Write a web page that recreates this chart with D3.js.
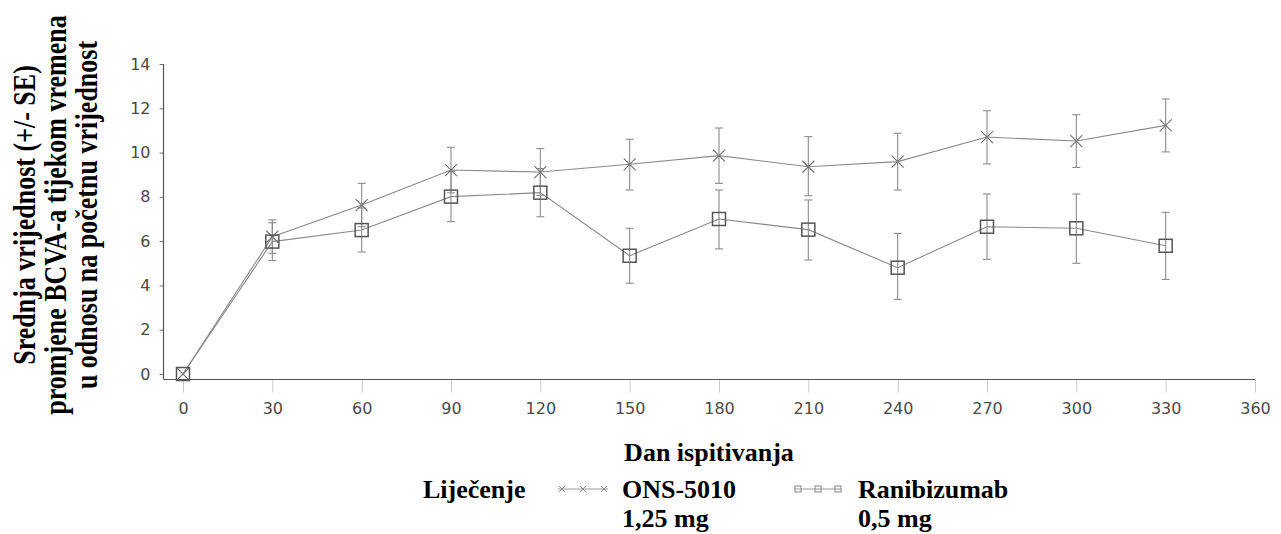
<!DOCTYPE html>
<html>
<head>
<meta charset="utf-8">
<script src="https://cdn.jsdelivr.net/npm/d3@7"></script>
<style>
  html, body { margin: 0; padding: 0; background: #fff; }
  svg { display: block; }
</style>
</head>
<body>
<svg id="chart" width="1281" height="534"></svg>
<script>
// ---- data ----
const days = [0, 30, 60, 90, 120, 150, 180, 210, 240, 270, 300, 330];
const xTicks = [0, 30, 60, 90, 120, 150, 180, 210, 240, 270, 300, 330, 360];
const yTicks = [0, 2, 4, 6, 8, 10, 12, 14];

const onsMean = [0, 6.2, 7.63, 9.21, 9.12, 9.47, 9.86, 9.36, 9.59, 10.70, 10.52, 11.23];
const onsLow  = [0, 5.45, 6.65, 8.18, 8.06, 8.31, 8.61, 8.05, 8.31, 9.49, 9.33, 10.03];
const onsHigh = [0, 6.96, 8.61, 10.24, 10.18, 10.60, 11.11, 10.72, 10.87, 11.89, 11.71, 12.42];

const raniMean = [0, 5.98, 6.50, 8.01, 8.19, 5.34, 7.00, 6.52, 4.80, 6.65, 6.58, 5.79];
const raniLow  = [0, 5.12, 5.51, 6.88, 7.10, 4.10, 5.65, 5.15, 3.37, 5.18, 5.00, 4.27];
const raniHigh = [0, 6.83, 7.50, 9.14, 9.28, 6.58, 8.31, 7.86, 6.35, 8.13, 8.13, 7.30];

const yTitle = ["Srednja vrijednost (+/- SE)", "promjene BCVA-a tijekom vremena", "u odnosu na početnu vrijednost"];
const xTitle = "Dan ispitivanja";
const legendTitle = "Liječenje";
const seriesNames = [["ONS-5010", "1,25 mg"], ["Ranibizumab", "0,5 mg"]];

// ---- layout ----
const svg = d3.select("#chart");
const x = d3.scaleLinear().domain([0, 360]).range([183, 1255]);
const y = d3.scaleLinear().domain([0, 14]).range([374, 64]);
const axisX = 163.5, axisY = 379.5;
const serif = "'Liberation Serif', 'Times New Roman', serif";
const tickFont = "'DejaVu Sans', sans-serif";

// y axis
const gy = svg.append("g").attr("transform", `translate(${axisX},0)`)
  .call(d3.axisLeft(y).tickValues(yTicks).tickSize(4).tickPadding(9).tickFormat(d3.format("d")));
gy.select(".domain").remove();
gy.selectAll(".tick line").attr("stroke", "#777");
gy.selectAll(".tick text").attr("font-family", tickFont).attr("font-size", 16).attr("fill", "#4a4a4a");

// x axis
const gx = svg.append("g").attr("transform", `translate(0,${axisY})`)
  .call(d3.axisBottom(x).tickValues(xTicks).tickSize(13).tickPadding(10).tickFormat(d3.format("d")));
gx.select(".domain").remove();
gx.selectAll(".tick line").attr("stroke", "#c8c8c8");
gx.selectAll(".tick text").attr("font-family", tickFont).attr("font-size", 16).attr("fill", "#4a4a4a");

// axis lines
svg.append("line").attr("x1", axisX).attr("x2", axisX).attr("y1", y(14)).attr("y2", axisY)
  .attr("stroke", "#555").attr("stroke-width", 1.2);
svg.append("line").attr("x1", axisX).attr("x2", x(360)).attr("y1", axisY).attr("y2", axisY)
  .attr("stroke", "#555").attr("stroke-width", 1.2);

// series
const series = [
  { mean: onsMean, low: onsLow, high: onsHigh, marker: "x" },
  { mean: raniMean, low: raniLow, high: raniHigh, marker: "sq" }
];
const line = d3.line().x((d, i) => x(days[i])).y(d => y(d));

series.forEach(s => {
  svg.append("path").datum(s.mean).attr("d", line)
    .attr("fill", "none").attr("stroke", "#8a8a8a").attr("stroke-width", 1.1);
});

// error bars
const cap = 4;
series.forEach(s => {
  const g = svg.append("g").attr("stroke", "#8c8c8c").attr("stroke-width", 1.1);
  days.forEach((d, i) => {
    if (s.high[i] === s.low[i]) return;
    const cx = x(d);
    g.append("line").attr("x1", cx).attr("x2", cx).attr("y1", y(s.low[i])).attr("y2", y(s.high[i]));
    g.append("line").attr("x1", cx - cap).attr("x2", cx + cap).attr("y1", y(s.low[i])).attr("y2", y(s.low[i]));
    g.append("line").attr("x1", cx - cap).attr("x2", cx + cap).attr("y1", y(s.high[i])).attr("y2", y(s.high[i]));
  });
});

function drawX(g, cx, cy, r, color, sw) {
  g.append("path").attr("d", `M${cx - r},${cy - r}L${cx + r},${cy + r}M${cx - r},${cy + r}L${cx + r},${cy - r}`)
    .attr("stroke", color).attr("stroke-width", sw).attr("fill", "none");
}
function drawSq(g, cx, cy, r, color, sw) {
  g.append("rect").attr("x", cx - r).attr("y", cy - r).attr("width", 2 * r).attr("height", 2 * r)
    .attr("stroke", color).attr("stroke-width", sw).attr("fill", "none");
}

// markers
const mg = svg.append("g");
series.forEach(s => {
  days.forEach((d, i) => {
    if (s.marker === "x") drawX(mg, x(d), y(s.mean[i]), 6, "#777", 1.2);
    else drawSq(mg, x(d), y(s.mean[i]), 6.5, "#555", 1.5);
  });
});

// y title
const yCenter = 215;
const yBaselines = [35, 66, 97];
yTitle.forEach((t, i) => {
  svg.append("text")
    .attr("transform", `translate(${yBaselines[i]},${yCenter}) rotate(-90) scale(1,1.22)`)
    .attr("text-anchor", "middle")
    .attr("font-family", serif).attr("font-weight", "bold").attr("font-size", 26)
    .attr("fill", "#000").text(t);
});

// x title
svg.append("text").attr("x", 709).attr("y", 461).attr("text-anchor", "middle")
  .attr("font-family", serif).attr("font-weight", "bold").attr("font-size", 26).attr("fill", "#000")
  .text(xTitle);

// legend
svg.append("text").attr("x", 423).attr("y", 498)
  .attr("font-family", serif).attr("font-weight", "bold").attr("font-size", 26).attr("fill", "#000")
  .text(legendTitle);

const lg = svg.append("g");
const legendItems = [
  { x0: 558, x1: 608, tx: 622, marker: "x" },
  { x0: 794, x1: 842, tx: 858, marker: "sq" }
];
legendItems.forEach((it, k) => {
  const ly = 489;
  lg.append("line").attr("x1", it.x0).attr("x2", it.x1).attr("y1", ly).attr("y2", ly)
    .attr("stroke", "#9a9a9a").attr("stroke-width", 1);
  [0, 0.5, 1].forEach(f => {
    const cx = it.x0 + 4 + f * (it.x1 - it.x0 - 8);
    if (it.marker === "x") drawX(lg, cx, ly, 3, "#888", 1);
    else drawSq(lg, cx, ly, 3, "#888", 1);
  });
  const txt = lg.append("text").attr("x", it.tx).attr("y", 498)
    .attr("font-family", serif).attr("font-weight", "bold").attr("font-size", 26).attr("fill", "#000");
  txt.append("tspan").attr("x", it.tx).attr("dy", 0).text(seriesNames[k][0]);
  txt.append("tspan").attr("x", it.tx).attr("dy", 29).text(seriesNames[k][1]);
});
</script>
</body>
</html>
